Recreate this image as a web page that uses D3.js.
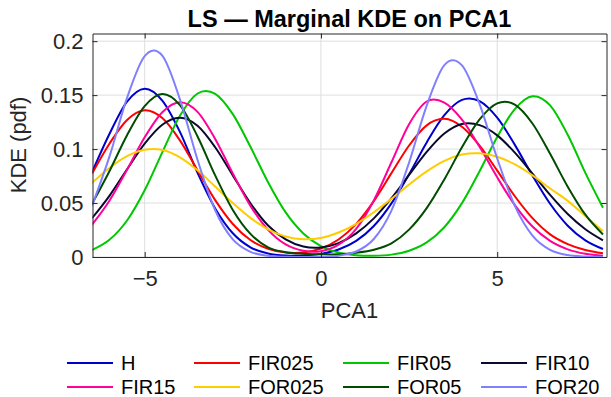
<!DOCTYPE html>
<html>
<head>
<meta charset="utf-8">
<script src="https://cdn.jsdelivr.net/npm/d3@7"></script>
<style>
  html, body { margin: 0; padding: 0; background: #fff; }
  svg { display: block; font-family: "Liberation Sans", Arial, Helvetica, sans-serif; }
</style>
</head>
<body>
<div id="chart"></div>
<script>
"use strict";

// sample positions on PCA1
var xs = [-6.5, -6, -5.5, -5, -4.5, -4, -3.5, -3, -2.5, -2, -1.5, -1, -0.5, 0, 0.5,
          1, 1.5, 2, 2.5, 3, 3.5, 4, 4.5, 5, 5.5, 6, 6.5, 7, 7.5, 8];

// KDE values for every series, one per sample position
var H      = [.078, .114, .144, .156, .145, .116, .078, .045, .022, .009, .0033, .0014, .0014, .0029, .0069,
              .0149, .0287, .0497, .0767, .1062, .1314, .1456, .1445, .1291, .1039, .0754, .0493, .029, .0154, .0074];
var FIR025 = [.0768, .105, .127, .136, .1288, .1081, .0802, .0527, .0306, .0157, .0076, .0041, .0041, .0079, .0162,
              .0307, .0518, .0777, .1033, .122, .128, .1207, .1032, .0801, .0563, .036, .021, .012, .0065, .0035];
var FIR05  = [.0064, .0159, .0338, .0618, .097, .1309, .1515, .1512, .1324, .1021, .0693, .0413, .0218, .0101, .0041,
              .0017, .0012, .0022, .0058, .0135, .0276, .0499, .0795, .1113, .1371, .149, .1405, .1132, .0779, .0457];
var FIR10  = [.0357, .0567, .0813, .105, .1225, .129, .1216, .1017, .0756, .0498, .0292, .0164, .0098, .0089, .0129,
              .0219, .0358, .0545, .0761, .0975, .1145, .1233, .1222, .1127, .0967, .0773, .0575, .0398, .0257, .0154];
var FIR15  = [.0297, .0522, .0809, .1109, .1342, .1435, .1345, .1094, .0773, .0474, .0252, .0117, .0058, .0054, .0114,
              .0261, .0524, .0878, .1231, .1441, .1431, .1273, .1021, .0738, .048, .0282, .0149, .0071, .003, .0012];
var FOR025 = [.0685, .0825, .0934, .0993, .0991, .0923, .0803, .0653, .050, .0363, .0257, .019, .0164, .0177, .0227,
              .0308, .0415, .0539, .0671, .0793, .0891, .0949, .0961, .0929, .0858, .0757, .0635, .052, .038, .024];
var FOR05  = [.0488, .0795, .1129, .1398, .151, .1407, .1117, .0756, .0436, .0214, .009, .0045, .003, .0025, .0025,
              .004, .0068, .0127, .0254, .0453, .0719, .1016, .1275, .1424, .1412, .1237, .0956, .0652, .0392, .0209];
var FOR20  = [.0469, .093, .1475, .1862, .1866, .1461, .0899, .0433, .0163, .0048, .0011, .0002, .0001, .0002, .0012,
              .0051, .0167, .043, .0875, .1403, .1778, .1775, .1416, .0913, .0473, .0198, .0066, .0018, .0004, .0001];

var seriesNames = ["H", "FIR025", "FIR05", "FIR10", "FIR15", "FOR025", "FOR05", "FOR20"];
var seriesValues = [H, FIR025, FIR05, FIR10, FIR15, FOR025, FOR05, FOR20];
var seriesColors = ["#0000cc", "#ff0000", "#00c800", "#0a0a30", "#ff0099", "#ffcc00", "#004c00", "#8080ff"];

// ticks
var xTicks = [-5, 0, 5];
var xTickLabels = ["\u22125", "0", "5"];
var yTicks = [0, 0.05, 0.1, 0.15, 0.2];
var yTickLabels = ["0", "0.05", "0.1", "0.15", "0.2"];

var width = 611, height = 397;
var margin = { top: 33.5, left: 92.5, right: 4.5, bottom: 140 };
var plotW = width - margin.left - margin.right;
var plotH = height - margin.top - margin.bottom;

var svg = d3.select("#chart").append("svg")
    .attr("width", width)
    .attr("height", height);

var g = svg.append("g")
    .attr("transform", "translate(" + margin.left + "," + margin.top + ")");

var xScale = d3.scaleLinear().domain([-6.48, 8.1]).range([0, plotW]);
var yScale = d3.scaleLinear().domain([0, 0.2071]).range([plotH, 0]);

// grid
g.append("g").selectAll("line").data(xTicks).enter().append("line")
    .attr("x1", function (d) { return xScale(d); })
    .attr("x2", function (d) { return xScale(d); })
    .attr("y1", 0).attr("y2", plotH)
    .attr("stroke", "#dedede").attr("stroke-width", 1);
g.append("g").selectAll("line").data(yTicks).enter().append("line")
    .attr("y1", function (d) { return yScale(d); })
    .attr("y2", function (d) { return yScale(d); })
    .attr("x1", 0).attr("x2", plotW)
    .attr("stroke", "#dedede").attr("stroke-width", 1);

// clip the curves to the axes box
g.append("clipPath").attr("id", "clip")
    .append("rect").attr("width", plotW).attr("height", plotH);

var line = d3.line()
    .x(function (d, i) { return xScale(xs[i]); })
    .y(function (d) { return yScale(d); })
    .curve(d3.curveCatmullRom.alpha(0));

g.append("g").attr("clip-path", "url(#clip)")
    .selectAll("path").data(seriesValues).enter().append("path")
    .attr("d", function (d) { return line(d); })
    .attr("fill", "none")
    .attr("stroke", function (d, i) { return seriesColors[i]; })
    .attr("stroke-width", 2);

// axes (ticks pointing inward, box on)
var axisColor = "#262626";
var xAxis = d3.axisBottom(xScale).tickValues(xTicks)
    .tickFormat(function (d, i) { return xTickLabels[i]; })
    .tickSizeInner(-5).tickSizeOuter(0).tickPadding(13);
var yAxis = d3.axisLeft(yScale).tickValues(yTicks)
    .tickFormat(function (d, i) { return yTickLabels[i]; })
    .tickSizeInner(-5).tickSizeOuter(0).tickPadding(9);

var gx = g.append("g").attr("transform", "translate(0," + plotH + ")").call(xAxis);
var gy = g.append("g").call(yAxis);
g.append("g").call(d3.axisTop(xScale).tickValues(xTicks).tickFormat("").tickSizeInner(-5).tickSizeOuter(0));
g.append("g").attr("transform", "translate(" + plotW + ",0)")
    .call(d3.axisRight(yScale).tickValues(yTicks).tickFormat("").tickSizeInner(-5).tickSizeOuter(0));

g.selectAll(".domain, .tick line").attr("stroke", axisColor).attr("stroke-width", 1);
gx.selectAll("text").attr("font-size", 22).attr("fill", axisColor).attr("font-family", null);
gy.selectAll("text").attr("font-size", 22).attr("fill", axisColor).attr("font-family", null);

// title and labels
svg.append("text")
    .attr("x", margin.left + plotW / 2).attr("y", 27)
    .attr("text-anchor", "middle")
    .attr("font-size", 23.5).attr("font-weight", "bold").attr("fill", "#000")
    .text("LS \u2014 Marginal KDE on PCA1");

svg.append("text")
    .attr("x", margin.left + plotW / 2).attr("y", 318)
    .attr("text-anchor", "middle")
    .attr("font-size", 22).attr("fill", axisColor)
    .text("PCA1");

svg.append("text")
    .attr("transform", "translate(26,145) rotate(-90)")
    .attr("text-anchor", "middle")
    .attr("font-size", 22).attr("fill", axisColor)
    .text("KDE (pdf)");

// legend: 4 columns, 2 rows below the axes
var legendX = [67, 194, 343, 481];
var legendY = [363, 387];
var legend = svg.append("g").selectAll("g").data(seriesNames).enter().append("g")
    .attr("transform", function (d, i) {
        return "translate(" + legendX[i % 4] + "," + legendY[Math.floor(i / 4)] + ")";
    });
legend.append("line")
    .attr("x1", 0).attr("x2", 46)
    .attr("stroke", function (d, i) { return seriesColors[i]; })
    .attr("stroke-width", 2);
legend.append("text")
    .attr("x", 54).attr("dy", "0.35em")
    .attr("font-size", 20).attr("fill", "#000")
    .text(function (d) { return d; });
</script>
</body>
</html>
